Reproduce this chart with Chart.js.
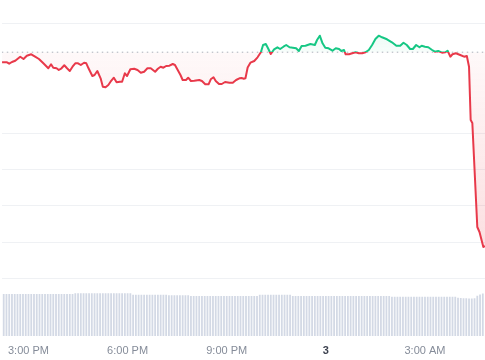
<!DOCTYPE html>
<html><head><meta charset="utf-8">
<script src="https://cdn.jsdelivr.net/npm/chart.js@4.4.1/dist/chart.umd.min.js"></script>
<style>html,body{margin:0;padding:0;background:#fff;}canvas{display:block;}</style>
</head><body>
<canvas id="c" width="485" height="360"></canvas>
<script>
// time in minutes after 3:00 PM
const priceMinutes = [-48,-39,-35,-30,-24,-15,-9,-3,5,12,
19,27,36,41,45,51,55,60,65,70,
75,80,85,90,95,101,105,109,116,120,
125,131,135,140,145,149,155,160,166,170,
175,179,185,192,198,204,210,216,222,226,
230,235,240,245,250,256,262,266,271,276,
280,286,290,295,301,310,315,321,327,331,
336,340,346,351,357,365,371,377,383,387,
391,394,398,403,410,416,422,426,431,435,
440,446,452,457,463,468,474,480,486,491,
496,503,512,520,524,529,534,539,545,552,
558,564,568,573,576,582,588,594,600,606,
612,618,624,630,636,642,651,660,668,675,
681,687,693,698,704,710,714,720,726,733,
738,744,751,757,761,766,770,776,784,791,
796,800,803,806,815,819,826,829];
const priceValues = [273.7,273.7,272.3,274.0,275.3,279.3,277.0,280.3,281.7,279.3,
277.0,272.7,267.7,271.7,268.3,267.7,266.0,267.7,270.7,267.7,
265.0,269.3,272.7,272.7,271.0,273.3,272.7,267.7,260.0,261.0,
265.0,257.7,249.3,248.7,251.0,254.3,258.3,253.7,254.3,254.3,
262.7,260.0,266.7,267.3,266.0,263.3,264.3,267.7,267.7,266.0,
264.3,267.3,269.3,268.3,270.0,270.3,272.0,271.0,266.0,261.0,
256.0,256.0,258.3,255.0,255.3,256.0,255.0,251.7,251.7,256.7,
258.7,255.0,252.0,252.0,254.0,253.3,253.3,256.0,257.7,258.0,
257.3,257.7,268.5,273.3,275.0,278.7,283.7,291.0,292.0,287.7,
282.0,286.7,288.7,287.0,289.3,291.0,288.7,288.3,287.7,285.0,
290.0,290.3,292.0,291.0,296.0,300.3,292.7,288.3,287.7,285.3,
287.7,287.0,285.0,286.0,281.7,281.7,282.7,283.7,282.7,282.7,
283.7,286.0,291.0,297.0,300.3,298.7,296.7,293.7,290.3,290.3,
293.3,291.0,287.0,287.0,291.0,288.7,290.3,289.3,288.7,286.0,
284.3,285.0,283.3,283.7,285.3,279.3,281.7,282.7,281.0,279.3,
280.0,269.3,216.0,213.0,109.0,104.0,89.0,90.0];
const openPrice = 283.8;

const volumeStartMinute = -45;
const volumeStepMinutes = 5;
const volumes = [
10,10,10,10,10,10,10,10,10,10,10,10,10,10,10,10,10,10,10,10,10,10,10,10,10,10,
10.2,10.2,10.2,10.2,10.2,10.2,10.2,10.2,10.2,10.2,10.2,10.2,10.2,10.2,10.2,10.2,10.2,10.2,10.2,10.2,10.2,
9.8,9.8,9.8,9.8,9.8,9.8,9.8,9.8,9.8,9.8,9.8,9.8,9.8,
9.7,9.7,9.7,9.7,9.7,9.7,9.7,9.7,
9.55,9.55,9.55,9.55,9.55,9.55,9.55,9.55,9.55,9.55,9.55,9.55,9.55,9.55,9.55,9.55,9.55,9.55,9.55,9.55,9.55,9.55,9.55,9.55,9.55,
9.85,9.85,9.85,9.85,9.85,9.85,9.85,9.85,9.85,9.85,9.85,9.85,
9.5,9.5,9.5,9.5,9.5,9.5,9.5,9.5,9.5,9.5,9.5,9.5,9.5,9.5,9.5,9.5,9.5,9.5,
9.5,9.5,9.5,9.5,9.5,9.5,9.5,9.5,9.5,9.5,9.5,9.5,9.5,9.5,9.5,9.5,9.5,9.5,
9.35,9.35,9.35,9.35,9.35,9.35,9.35,9.35,9.35,9.35,9.35,9.35,
9.35,9.35,9.35,9.35,9.35,9.35,9.35,9.35,9.35,9.35,9.35,9.35,
9.1,9.05,9.0,9.0,8.95,8.95,9.0,
9.6,9.9,10.1];

const tickMinutes = [0,180,360,540,720];
const tickLabels = ['3:00 PM','6:00 PM','9:00 PM','3','3:00 AM'];
const dayLabels = ['3'];
const gridValues = [57.4,93.8,130.2,166.6,203.0,312.2];
const xRange = [-48.5, 829];
const priceRange = [0, 336];
const volumeMax = 80;

const RED = '#e8394a', GREEN = '#16c784';

const pricePoints = priceMinutes.map((m,i)=>({x:m, y:priceValues[i]}));
const volumePoints = volumes.map((v,i)=>({x: volumeStartMinute + i*volumeStepMinutes, y: v}));
const basePoints = xRange.map(m=>({x:m, y:openPrice}));

function lineColor(c){
  const ch = c.chart, a = ch.chartArea;
  if(!a) return RED;
  const yb = ch.scales.y.getPixelForValue(openPrice);
  const t = Math.min(1, Math.max(0, (yb - a.top)/(a.bottom - a.top)));
  const g = ch.ctx.createLinearGradient(0, a.top, 0, a.bottom);
  g.addColorStop(0, GREEN); g.addColorStop(t, GREEN);
  g.addColorStop(t, RED); g.addColorStop(1, RED);
  return g;
}
function fillOpt(c){
  const ch = c.chart, a = ch.chartArea;
  if(!a) return {value: openPrice, above:'rgba(22,199,132,0.08)', below:'rgba(234,57,67,0.1)'};
  const yb = ch.scales.y.getPixelForValue(openPrice);
  const gb = ch.ctx.createLinearGradient(0, yb, 0, a.bottom);
  gb.addColorStop(0,'rgba(234,57,67,0.03)'); gb.addColorStop(1,'rgba(234,57,67,0.22)');
  const ga = ch.ctx.createLinearGradient(0, yb, 0, a.top);
  ga.addColorStop(0,'rgba(22,199,132,0.03)'); ga.addColorStop(1,'rgba(22,199,132,0.16)');
  return {value: openPrice, above: ga, below: gb};
}

new Chart(document.getElementById('c'), {
  data: {
    datasets: [
      { type:'line', label:'Price', data: pricePoints, yAxisID:'y', order:0,
        borderColor: lineColor, borderWidth: 2, pointRadius: 0, tension: 0,
        borderJoinStyle:'round', fill: fillOpt },
      { type:'line', label:'Open', data: basePoints, yAxisID:'y', order:1,
        borderColor:'#aab0ba', borderWidth:1, borderDash:[1.5,3.5], pointRadius:0, fill:false },
      { type:'bar', label:'Volume', data: volumePoints, yAxisID:'yVol', order:2,
        backgroundColor:'#d3d9e5', borderWidth:0, barPercentage:0.65, categoryPercentage:1 }
    ]
  },
  options: {
    responsive:false, animation:false, devicePixelRatio:1,
    layout:{padding:0, autoPadding:false},
    plugins:{legend:{display:false}, tooltip:{enabled:false}},
    scales:{
      x:{ type:'linear', min:xRange[0], max:xRange[1], offset:false,
        grid:{display:false, drawTicks:false}, border:{display:false},
        afterBuildTicks: s => { s.ticks = tickMinutes.map(v=>({value:v})); },
        afterFit: s => { s.height = 24; },
        ticks:{ autoSkip:false, maxRotation:0, padding:8,
          callback:(v,i)=>tickLabels[i],
          color: c => dayLabels.includes(tickLabels[c.index]) ? '#3d4250' : '#858c99',
          font: c => ({family:'"Liberation Sans", Arial, sans-serif', size:11,
            weight: dayLabels.includes(tickLabels[c.index]) ? 'bold' : 'normal'}) } },
      y:{ type:'linear', position:'left', min:priceRange[0], max:priceRange[1],
        afterBuildTicks: s => { s.ticks = gridValues.map(v=>({value:v})); },
        afterFit: s => { s.width = 0; },
        ticks:{display:false}, grid:{color:'#eff1f4', drawTicks:false}, border:{display:false} },
      yVol:{ type:'linear', display:false, min:0, max:volumeMax }
    }
  }
});
</script>
</body></html>
